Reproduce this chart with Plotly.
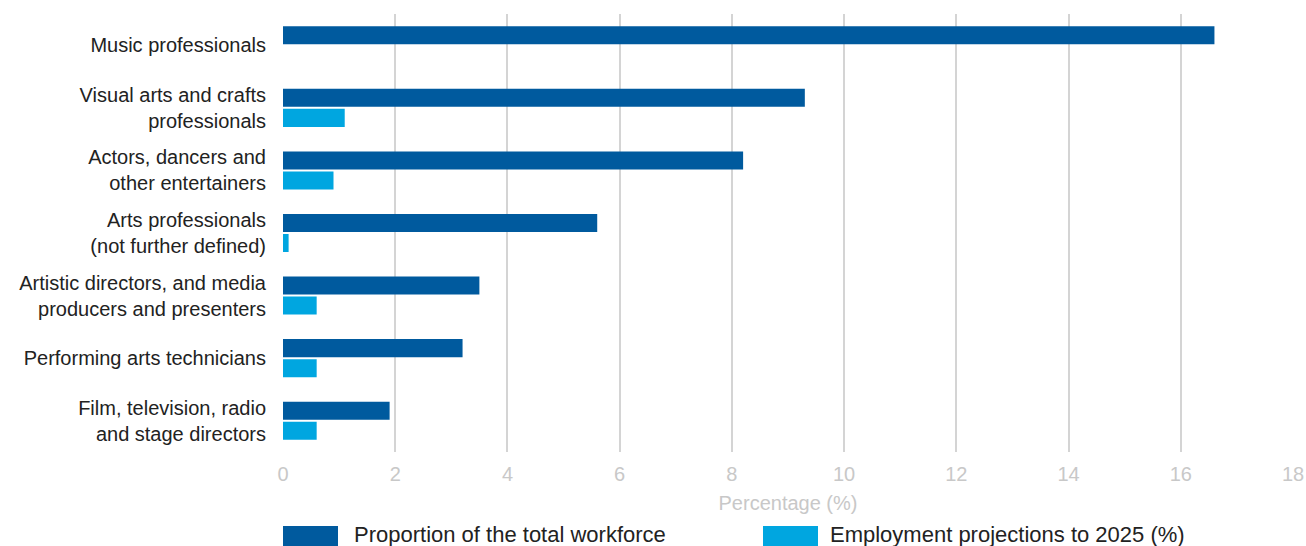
import plotly.graph_objects as go

categories = [
    "Music professionals",
    "Visual arts and crafts<br>professionals",
    "Actors, dancers and<br>other entertainers",
    "Arts professionals<br>(not further defined)",
    "Artistic directors, and media<br>producers and presenters",
    "Performing arts technicians",
    "Film, television, radio<br>and stage directors",
]
workforce = [16.6, 9.3, 8.2, 5.6, 3.5, 3.2, 1.9]
projections = [0.0, 1.1, 0.9, 0.1, 0.6, 0.6, 0.6]
series_names = ["Proportion of the total workforce", "Employment projections to 2025 (%)"]
colors = ["#005a9e", "#00a6e0"]
x_ticks = list(range(0, 19, 2))

FONT = "Liberation Sans"
W, H = 1306, 546
L, R, T, B = 283, 13, 14, 94
pw, ph = W - L - R, H - T - B

fig = go.Figure()
fig.add_trace(go.Bar(y=categories, x=workforce, orientation="h", name=series_names[0],
                     marker=dict(color=colors[0], line=dict(width=0))))
fig.add_trace(go.Bar(y=categories, x=projections, orientation="h", name=series_names[1],
                     marker=dict(color=colors[1], line=dict(width=0))))

def px_x(p):
    return (p - L) / pw

def px_y(p):
    return (H - B - p) / ph

shapes = []
annotations = []
legend_items = [(283, 352), (763, 828)]
for (sx, tx), name, col in zip(legend_items, series_names, colors):
    shapes.append(dict(type="rect", xref="paper", yref="paper",
                       x0=px_x(sx), x1=px_x(sx + 55), y0=px_y(526), y1=px_y(546),
                       fillcolor=col, line=dict(width=0)))
    annotations.append(dict(xref="paper", yref="paper", x=px_x(tx), y=px_y(534),
                            xanchor="left", yanchor="middle", showarrow=False,
                            text=name, font=dict(size=22, color="#222222",
                                                 family=FONT)))

fig.update_layout(
    width=W, height=H,
    margin=dict(l=L, r=R, t=T, b=B, pad=0, autoexpand=False),
    paper_bgcolor="white", plot_bgcolor="white",
    barmode="group", bargap=0.36, bargroupgap=0.1,
    showlegend=False,
    font=dict(family=FONT, size=20, color="#222222"),
    xaxis=dict(range=[0, 18], tickvals=x_ticks, showgrid=True, automargin=False,
               gridcolor="#d4d4d4", gridwidth=2, zeroline=False,
               showline=False, ticks="",
               tickfont=dict(size=20, color="#c8c8c8", family=FONT),
               ticklabelstandoff=8,
               title=dict(text="Percentage (%)", font=dict(size=20, color="#c8c8c8", family=FONT),
                          standoff=11)),
    yaxis=dict(autorange="reversed", showgrid=False, zeroline=False, showline=False,
               automargin=False,
               ticks="", ticklabelstandoff=16,
               tickfont=dict(size=20, color="#222222", family=FONT)),
    shapes=shapes,
    annotations=annotations,
)

fig.write_html("out.html")
